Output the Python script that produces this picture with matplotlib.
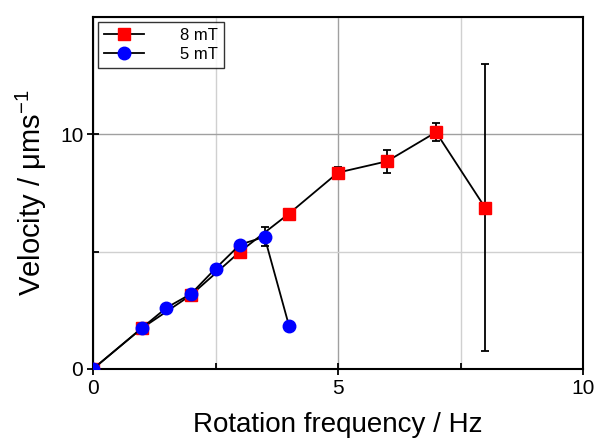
import numpy as np
import matplotlib
matplotlib.use('Agg')
import matplotlib.pyplot as plt
from matplotlib.lines import Line2D
from matplotlib.ticker import MultipleLocator

plt.rcParams['font.family'] = ['Liberation Sans', 'DejaVu Sans']

# 8 mT data
freq_8 = [0, 1, 2, 3, 4, 5, 6, 7, 8]
vel_8 = [0.0, 1.74, 3.15, 5.0, 6.62, 8.37, 8.85, 10.09, 6.88]
err_8 = [0.0, 0.1, 0.15, 0.2, 0.12, 0.25, 0.49, 0.38, 6.1]

# 5 mT data
freq_5 = [0, 1, 1.5, 2, 2.5, 3, 3.5, 4]
vel_5 = [0.0, 1.75, 2.61, 3.2, 4.28, 5.3, 5.63, 1.84]
err_5 = [0.0, 0.1, 0.08, 0.12, 0.08, 0.15, 0.4, 0.08]

labels = ['8 mT', '5 mT']


def main():
    fig = plt.figure(figsize=(5.98, 4.44), dpi=100)
    ax = fig.add_axes([0.1555, 0.169, 0.8195, 0.7927])

    ax.errorbar(freq_8, vel_8, yerr=err_8, color='k', lw=1.3,
                marker='s', ms=8.5, mfc='red', mec='red', ecolor='k',
                elinewidth=1.3, capsize=3, capthick=1.3, zorder=3)
    ax.errorbar(freq_5, vel_5, yerr=err_5, color='k', lw=1.3,
                marker='o', ms=9, mfc='blue', mec='blue', ecolor='k',
                elinewidth=1.3, capsize=3, capthick=1.3, zorder=4)

    ax.set_xlim(0, 10)
    ax.set_ylim(0, 15)
    ax.xaxis.set_major_locator(MultipleLocator(5))
    ax.xaxis.set_minor_locator(MultipleLocator(2.5))
    ax.yaxis.set_major_locator(MultipleLocator(10))
    ax.yaxis.set_minor_locator(MultipleLocator(5))

    ax.grid(which='major', color='#a0a0a0', lw=1)
    ax.grid(which='minor', color='#d0d0d0', lw=1)
    ax.set_axisbelow(True)

    ax.tick_params(which='major', direction='inout', length=8, width=1.3,
                   labelsize=15, pad=3)
    ax.tick_params(which='minor', direction='in', length=4, width=1.3)
    for sp in ax.spines.values():
        sp.set_linewidth(1.5)

    ax.set_xlabel('Rotation frequency / Hz', fontsize=20, labelpad=10)
    ax.set_ylabel('Velocity / μms$^{\\mathregular{-1}}$', fontsize=21,
                  labelpad=8)

    handles = [
        Line2D([], [], color='k', lw=1.3, marker='s', ms=8,
               mfc='red', mec='red'),
        Line2D([], [], color='k', lw=1.3, marker='o', ms=9,
               mfc='blue', mec='blue'),
    ]
    leg = ax.legend(handles, labels, loc='upper left', fontsize=12,
                    frameon=True, fancybox=False, edgecolor='k',
                    handlelength=2.4, handletextpad=2.2,
                    borderaxespad=0.3, labelspacing=0.25,
                    borderpad=0.35)
    leg.get_frame().set_linewidth(1)

    fig.savefig('out.png', dpi=100)
    plt.close(fig)


if __name__ == '__main__':
    main()
